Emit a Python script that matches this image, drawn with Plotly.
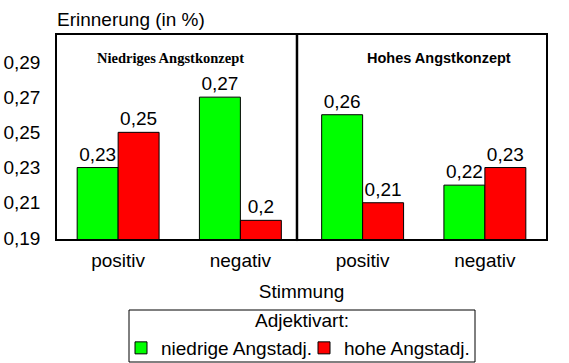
import plotly.graph_objects as go

categories = ["positiv", "negativ", "positiv", "negativ"]
panel_titles = ["Niedriges Angstkonzept", "Hohes Angstkonzept"]
series_names = ["niedrige Angstadj.", "hohe Angstadj."]
legend_title = "Adjektivart:"
niedrige = [0.23, 0.27, 0.26, 0.22]
hohe = [0.25, 0.20, 0.21, 0.23]
y_ticks = [0.19, 0.21, 0.23, 0.25, 0.27, 0.29]

FONT = "Liberation Sans, Arial, sans-serif"
xpos = list(range(len(categories)))


def fmt(v):
    return f"{v:g}".replace(".", ",")


fig = go.Figure()
for name, vals, color in [(series_names[0], niedrige, "#00FF00"),
                          (series_names[1], hohe, "#FF0000")]:
    fig.add_trace(go.Bar(
        x=xpos, y=vals, name=name,
        marker=dict(color=color, line=dict(color="black", width=1)),
        text=[fmt(v) for v in vals], textposition="outside",
        textfont=dict(family=FONT, size=19, color="black"),
        cliponaxis=False,
    ))

# plot area: x 57..546, y 35..239 px
fig.update_layout(
    width=569, height=363,
    margin=dict(l=57, r=23, t=35, b=124, autoexpand=False),
    paper_bgcolor="white", plot_bgcolor="white",
    barmode="group", bargap=0.33, bargroupgap=0,
    separators=",.",
    font=dict(family=FONT, size=19, color="black"),
    showlegend=True,
    legend=dict(
        orientation="h", x=(121 - 57) / 489, xanchor="left",
        y=(239 - 348) / 204, yanchor="middle",
        borderwidth=0, bgcolor="rgba(0,0,0,0)",
        font=dict(size=19), tracegroupgap=0, itemwidth=30,
        entrywidth=138, entrywidthmode="pixels",
    ),
)
fig.update_xaxes(
    range=[-0.5, 3.5], tickvals=xpos, ticktext=categories,
    showline=True, mirror=True, linecolor="black", linewidth=1.5,
    showgrid=False, zeroline=False, ticks="", ticklabelstandoff=3,
    automargin=False,
    title=dict(text="Stimmung", standoff=15, font=dict(size=19)),
)
fig.update_yaxes(
    range=[0.1894, 0.3053], tickvals=y_ticks, tickformat=".2f",
    showline=True, mirror=True, linecolor="black", linewidth=1.5,
    showgrid=False, zeroline=False, ticks="", ticklabelstandoff=11,
    automargin=False,
)

# divider between the two panels
fig.add_shape(type="line", xref="x", yref="paper", x0=1.463, x1=1.463,
              y0=-0.01, y1=1, line=dict(color="black", width=2.5))

# legend frame + title
fig.add_shape(type="rect", xref="paper", yref="paper",
              x0=(129 - 57) / 489, x1=(475 - 57) / 489,
              y0=(239 - 362) / 204, y1=(239 - 310) / 204,
              line=dict(color="black", width=1), fillcolor="rgba(0,0,0,0)")
fig.add_annotation(text=legend_title, xref="paper", yref="paper",
                   x=(302 - 57) / 489, y=(239 - 320) / 204, showarrow=False,
                   xanchor="center", yanchor="middle", font=dict(size=19))

fig.add_annotation(text="<b>" + panel_titles[0] + "</b>", xref="paper", yref="paper",
                   x=0.233, y=0.887, showarrow=False,
                   font=dict(family="Liberation Serif, Times New Roman, serif",
                             size=14.5, color="black"),
                   xanchor="center", yanchor="middle")
fig.add_annotation(text="<b>" + panel_titles[1] + "</b>", xref="paper", yref="paper",
                   x=0.781, y=0.887, showarrow=False,
                   font=dict(family=FONT, size=14.5, color="black"),
                   xanchor="center", yanchor="middle")
fig.add_annotation(text="Erinnerung (in %)", xref="paper", yref="paper",
                   x=0, y=1, yshift=16, xshift=-2, showarrow=False, xanchor="left",
                   yanchor="middle", font=dict(size=19))

fig.write_html("out.html", config={"displayModeBar": False},
               post_script="document.body.style.margin='0';document.body.style.overflow='hidden';")
